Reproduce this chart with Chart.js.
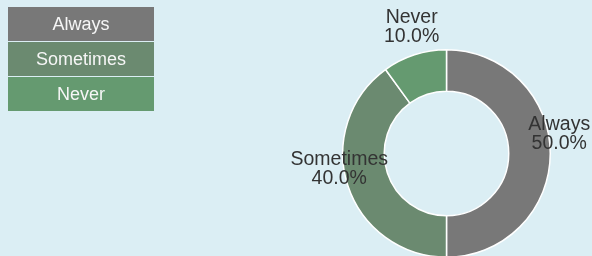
<!DOCTYPE html>
<html>
<head>
<meta charset="utf-8">
<script src="https://cdn.jsdelivr.net/npm/chart.js@4"></script>
<style>
  html, body { margin: 0; padding: 0; background: #dbeef4; overflow: hidden; }
  #wrap { position: relative; width: 592px; height: 256px; overflow: hidden; }
  #myChart { display: block; }
  #legend { position: absolute; left: 8px; top: 7px; width: 146px; }
  #legend div {
    font: 18px "Liberation Sans", Arial, sans-serif;
    height: 34px; line-height: 34px; margin-bottom: 1px;
    text-align: center; color: #f6f6f6;
  }
</style>
</head>
<body>
<div id="wrap">
  <canvas id="myChart" width="592" height="258"></canvas>
  <div id="legend"></div>
</div>
<script>
const categories = ["Always", "Sometimes", "Never"];
const values = [50, 40, 10];
const colors = ["#787878", "#6b8a70", "#659a70"];

document.addEventListener("DOMContentLoaded", () => {
  const ctx = document.getElementById("myChart");
  const total = values.reduce((a, b) => a + b, 0);

  // html legend boxes
  const legend = document.getElementById("legend");
  categories.forEach((name, i) => {
    const d = document.createElement("div");
    d.textContent = name;
    d.style.background = colors[i];
    legend.appendChild(d);
  });

  // labels just outside each slice, bottom aligned at the anchor
  const sliceLabels = {
    id: "sliceLabels",
    afterDatasetsDraw(chart) {
      const c = chart.ctx;
      const meta = chart.getDatasetMeta(0);
      c.save();
      c.font = '19.5px "Liberation Sans", Arial, sans-serif';
      c.fillStyle = "#333333";
      c.textAlign = "center";
      c.textBaseline = "bottom";
      meta.data.forEach((arc, i) => {
        const p = arc.getProps(["x", "y", "startAngle", "endAngle", "outerRadius"], true);
        const mid = (p.startAngle + p.endAngle) / 2;
        const r = p.outerRadius + 9;
        const x = p.x + Math.cos(mid) * r;
        const y = p.y + Math.sin(mid) * r;
        const pct = (values[i] / total * 100).toFixed(1) + "%";
        c.fillText(categories[i], x, y - 19);
        c.fillText(pct, x, y);
      });
      c.restore();
    },
  };

  new Chart(ctx, {
    type: "doughnut",
    data: {
      labels: categories,
      datasets: [
        {
          data: values,
          backgroundColor: colors,
          borderColor: "#ffffff",
          borderWidth: 1.5,
        },
      ],
    },
    options: {
      responsive: false,
      animation: false,
      cutout: "60%",
      layout: { padding: { left: 342, right: 41, top: 49, bottom: 0 } },
      plugins: {
        legend: { display: false },
        tooltip: { enabled: false },
      },
    },
    plugins: [sliceLabels],
  });
});
</script>
</body>
</html>
